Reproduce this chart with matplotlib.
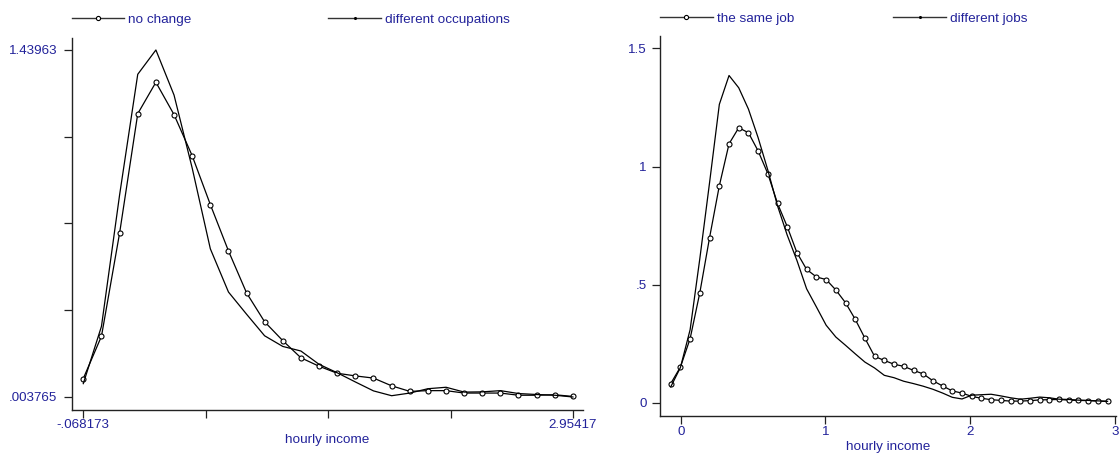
import matplotlib
matplotlib.use("Agg")
import matplotlib.pyplot as plt
from matplotlib.lines import Line2D

# left panel: occupation change
occ_x = [-0.068173, 0.044, 0.156, 0.268, 0.380, 0.492, 0.604, 0.716, 0.828, 0.940,
         1.051, 1.163, 1.275, 1.387, 1.499, 1.611, 1.723, 1.835, 1.947, 2.059,
         2.171, 2.283, 2.395, 2.507, 2.618, 2.730, 2.842, 2.95417]
no_change = [0.080, 0.255, 0.682, 1.176, 1.306, 1.172, 1.002, 0.800, 0.608, 0.434,
             0.315, 0.237, 0.166, 0.131, 0.102, 0.091, 0.082, 0.050, 0.027, 0.030,
             0.030, 0.020, 0.020, 0.020, 0.011, 0.011, 0.013, 0.006]
diff_occ = [0.059, 0.296, 0.840, 1.339, 1.43963, 1.253, 0.951, 0.617, 0.438, 0.346,
            0.257, 0.213, 0.194, 0.139, 0.104, 0.066, 0.029, 0.009, 0.020, 0.038,
            0.044, 0.024, 0.025, 0.030, 0.018, 0.014, 0.011, 0.003765]

# right panel: job change
job_x = [-0.069, -0.002, 0.065, 0.132, 0.199, 0.267, 0.334, 0.401, 0.468, 0.535,
         0.602, 0.669, 0.736, 0.803, 0.870, 0.938, 1.005, 1.072, 1.139, 1.206,
         1.273, 1.340, 1.407, 1.474, 1.541, 1.609, 1.676, 1.743, 1.810, 1.877,
         1.944, 2.011, 2.078, 2.145, 2.212, 2.280, 2.347, 2.414, 2.481, 2.548,
         2.615, 2.682, 2.749, 2.816, 2.883, 2.950]
same_job = [0.082, 0.152, 0.272, 0.466, 0.698, 0.919, 1.096, 1.164, 1.143, 1.066,
            0.970, 0.844, 0.746, 0.636, 0.565, 0.533, 0.522, 0.478, 0.424, 0.354,
            0.274, 0.197, 0.180, 0.164, 0.155, 0.138, 0.123, 0.094, 0.072, 0.051,
            0.042, 0.028, 0.020, 0.014, 0.011, 0.008, 0.008, 0.010, 0.013, 0.014,
            0.015, 0.012, 0.011, 0.010, 0.008, 0.007]
diff_jobs = [0.068, 0.150, 0.310, 0.610, 0.930, 1.263, 1.385, 1.333, 1.243, 1.122,
             0.985, 0.834, 0.710, 0.603, 0.483, 0.406, 0.329, 0.279, 0.244, 0.208,
             0.173, 0.148, 0.117, 0.107, 0.092, 0.082, 0.071, 0.058, 0.042, 0.024,
             0.017, 0.033, 0.035, 0.037, 0.030, 0.022, 0.016, 0.020, 0.025, 0.022,
             0.016, 0.015, 0.012, 0.011, 0.009, 0.007]

occ_yticks = [0.003765, 0.3627313, 0.7216975, 1.0806638, 1.43963]
occ_yticklabels = [".003765", "", "", "", "1.43963"]
occ_xticks = [-0.068173, 0.6874128, 1.4429985, 2.1985843, 2.95417]
occ_xticklabels = ["-.068173", "", "", "", "2.95417"]
job_yticks = [0, 0.5, 1, 1.5]
job_yticklabels = ["0", ".5", "1", "1.5"]
job_xticks = [0, 1, 2, 3]
job_xticklabels = ["0", "1", "2", "3"]

NAVY = "#22229a"
plt.rcParams["font.family"] = ["Liberation Sans", "DejaVu Sans"]
FS = 9.7


def style_axes(ax, ypad):
    for side in ["top", "right"]:
        ax.spines[side].set_visible(False)
    for side in ["left", "bottom"]:
        ax.spines[side].set_linewidth(1.0)
        ax.spines[side].set_color("#222222")
    ax.tick_params(axis="y", direction="out", length=5.5, width=0.9, colors="#222222",
                   labelcolor=NAVY, labelsize=9.6, pad=ypad)
    ax.tick_params(axis="x", direction="out", length=5.5, width=0.9, colors="#222222",
                   labelcolor=NAVY, labelsize=9.6, pad=1.5)


def draw_panel(ax, x, y1, y2):
    ax.plot(x, y1, color="black", linewidth=0.9, marker="o", markersize=3.6,
            markerfacecolor="white", markeredgecolor="black", markeredgewidth=0.8)
    ax.plot(x, y2, color="black", linewidth=0.9)


def add_legend(fig, x1, x2, y, lab1, lab2):
    h1 = Line2D([], [], color="#333333", linewidth=1.0, marker="o", markersize=3,
                markerfacecolor="white", markeredgecolor="black", markeredgewidth=0.8)
    h2 = Line2D([], [], color="#333333", linewidth=1.0, marker="o", markersize=1.2,
                markerfacecolor="black", markeredgecolor="black")
    for h, lab, xx in [(h1, lab1, x1), (h2, lab2, x2)]:
        fig.legend([h], [lab], loc="center left", bbox_to_anchor=(xx, y),
                   bbox_transform=fig.transFigure, frameon=False, handlelength=3.9,
                   handletextpad=0.3, borderpad=0, borderaxespad=0,
                   labelcolor=NAVY, fontsize=FS)


fig = plt.figure(figsize=(11.2, 4.54), dpi=100)

ax1 = fig.add_axes([0.064, 0.0976, 0.4565, 0.8194])
draw_panel(ax1, occ_x, no_change, diff_occ)
ax1.set_xlim(-0.1398, 3.016)
ax1.set_ylim(-0.0488, 1.4905)
ax1.set_yticks(occ_yticks)
ax1.set_yticklabels(occ_yticklabels)
ax1.set_xticks(occ_xticks)
ax1.set_xticklabels(occ_xticklabels)
style_axes(ax1, 5)
ax1.set_xlabel("hourly income", color=NAVY, fontsize=FS, labelpad=2)

ax2 = fig.add_axes([0.5893, 0.0837, 0.4071, 0.837])
draw_panel(ax2, job_x, same_job, diff_jobs)
ax2.set_xlim(-0.143, 3.008)
ax2.set_ylim(-0.055, 1.552)
ax2.set_yticks(job_yticks)
ax2.set_yticklabels(job_yticklabels)
ax2.set_xticks(job_xticks)
ax2.set_xticklabels(job_xticklabels)
style_axes(ax2, 4)
ax2.set_xlabel("hourly income", color=NAVY, fontsize=FS, labelpad=2)

add_legend(fig, 71.7 / 1120, 328.3 / 1120, 1 - 20 / 454, "no change", "different occupations")
add_legend(fig, 660 / 1120, 893.3 / 1120, 1 - 18.3 / 454, "the same job", "different jobs")

plt.savefig("out.png", dpi=100)
plt.close()
